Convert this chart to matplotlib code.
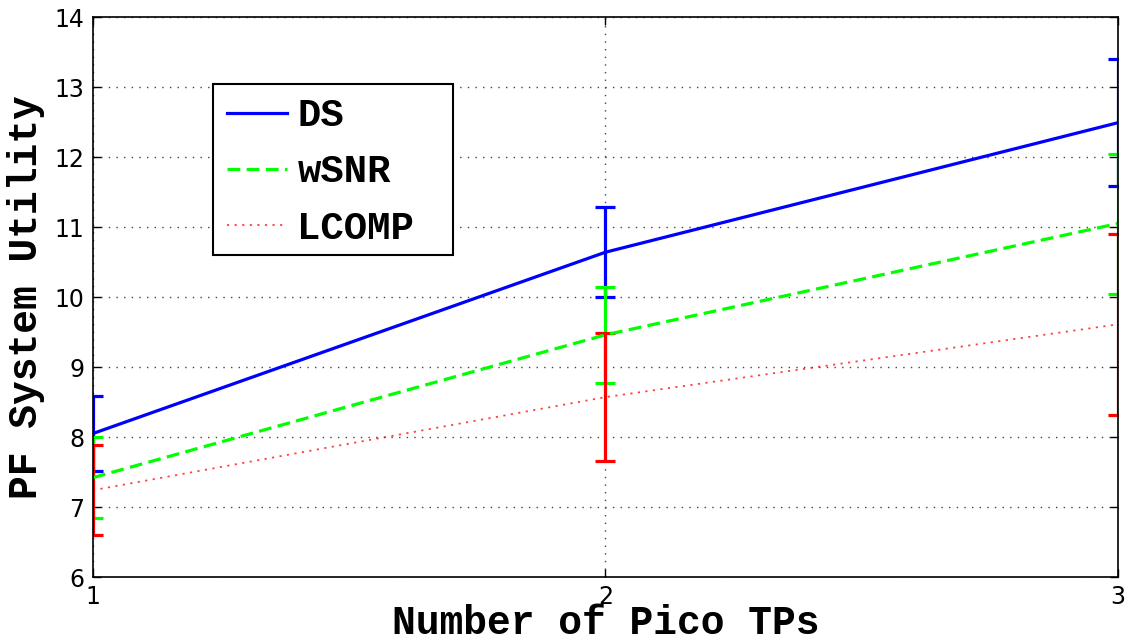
import matplotlib
matplotlib.use('Agg')
import matplotlib.pyplot as plt
from matplotlib.patches import Rectangle

# Number of pico TPs
tps = [1, 2, 3]

# PF system utility, mean and error
ds = [8.05, 10.64, 12.49]
ds_err = [0.53, 0.64, 0.91]
wsnr = [7.42, 9.46, 11.05]
wsnr_err = [0.58, 0.69, 1.0]
lcomp = [7.24, 8.57, 9.61]
lcomp_err = [0.64, 0.91, 1.29]

plt.rcParams['font.family'] = 'DejaVu Sans'
fig = plt.figure(figsize=(11.35, 6.44), dpi=100)
ax = fig.add_axes([0.0819, 0.104, 0.9031, 0.8696])

lbl_font = dict(family='Liberation Mono', weight='bold', size=28.5)

l1 = ax.errorbar(tps, ds, yerr=ds_err, color=(0, 0, 1), lw=2.3, ls='-',
                 capsize=7.5, capthick=2.3, elinewidth=2.3, label='DS')
l2 = ax.errorbar(tps, wsnr, yerr=wsnr_err, color=(0, 1, 0), lw=2.3, ls='--',
                 dashes=(4, 2), capsize=7.5, capthick=2.3, elinewidth=2.3,
                 label='wSNR')
l3 = ax.errorbar(tps, lcomp, yerr=lcomp_err, color=(1, 0, 0), lw=1.3, ls=':',
                 dashes=(1.2, 3.0), capsize=7.5, capthick=2.3, elinewidth=2.3,
                 label='LCOMP')
l3[0].set_alpha(0.75)
for c in l3[2]:
    c.set_linestyle('-')

ax.set_xlim(1, 3)
ax.set_ylim(6, 14)
ax.set_xticks([1, 2, 3])
ax.set_yticks(range(6, 15))
ax.tick_params(direction='in', labelsize=17, top=True, right=True,
               length=6, width=1, pad=6)
ax.grid(True, ls=(0, (1, 4.5)), color='#444444', lw=1)
for s in ax.spines.values():
    s.set_linewidth(1.2)

ax.set_xlabel('Number of Pico TPs', fontdict=lbl_font, labelpad=-4)
ax.set_ylabel('PF System Utility', fontdict=lbl_font, labelpad=7)

# legend box drawn separately (MATLAB style: wide right margin)
box = Rectangle((0.117, 0.575), 0.234, 0.305, transform=ax.transAxes,
                facecolor='white', edgecolor='black', lw=1.5, zorder=4)
ax.add_patch(box)
h = [l1[0], l2[0], l3[0]]
leg = ax.legend(h, ['DS', 'wSNR', 'LCOMP'], loc='upper left',
                bbox_to_anchor=(0.127, 0.862), borderaxespad=0, frameon=False,
                prop=dict(family='Liberation Mono', weight='bold', size=28),
                handlelength=1.55, handletextpad=0.26, labelspacing=0.52,
                borderpad=0.1)
leg.set_zorder(5)

fig.savefig('out.png', dpi=100)
